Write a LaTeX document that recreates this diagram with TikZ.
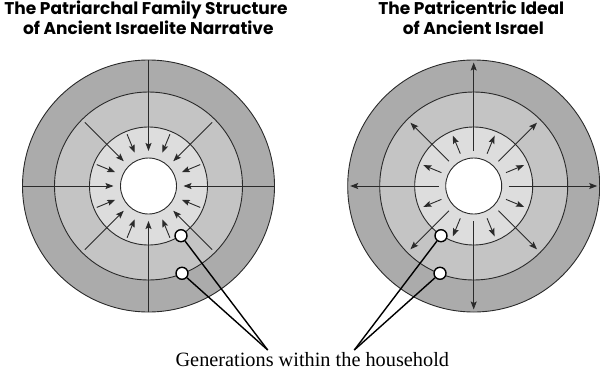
\documentclass[tikz,border=0pt]{standalone}
\usepackage{fontspec}
\setmainfont{Liberation Serif}
\newfontfamily\titlefont{Poppins}
\usetikzlibrary{arrows.meta}
\definecolor{ringA}{HTML}{ABABAB}
\definecolor{ringB}{HTML}{C4C4C4}
\definecolor{ringC}{HTML}{DDDDDD}
\definecolor{linegray}{HTML}{2A2A2A}
\tikzset{
  ringline/.style={draw=linegray, line width=0.9pt},
  arr/.style={draw=linegray, line width=0.9pt, -{Stealth[length=8pt,width=6pt,inset=1.5pt]}},
  plain/.style={draw=linegray, line width=0.9pt},
  dot/.style={circle, draw=black, fill=white, line width=1.4pt, minimum size=12pt, inner sep=0pt},
  pointer/.style={draw=black, line width=1.4pt},
  titletext/.style={font=\titlefont\bfseries\fontsize{17}{20}\selectfont, inner sep=0pt, anchor=base},
  labeltext/.style={font=\fontsize{20.3}{22}\selectfont, inner sep=0pt, anchor=base}
}
\newcommand{\rings}{%
  \fill[ringA] (0,0) circle (126);
  \fill[ringB] (0,0) circle (94);
  \fill[ringC] (0,0) circle (59);
  \fill[white] (0,0) circle (28);
}
\newcommand{\ringlines}{%
  \draw[ringline] (0,0) circle (126);
  \draw[ringline] (0,0) circle (94);
  \draw[ringline] (0,0) circle (59);
  \draw[ringline] (0,0) circle (28);
}
\begin{document}
\begin{tikzpicture}[x=1pt,y=-1pt]
\useasboundingbox (0,0) rectangle (600,370);
% titles
\node[titletext] (t1a) at (146,14) {The Patriarchal Family Structure};
\node[titletext] (t1b) at (148.3,34.3) {of Ancient Israelite Narrative};
\node[titletext] (t2a) at (471.3,14) {The Patricentric Ideal};
\node[titletext] (t2b) at (473.3,34.3) {of Ancient Israel};
% left diagram
\begin{scope}[shift={(148.5,186)}]
  \rings
  \foreach \a in {0,90,180,270} \draw[plain] (\a:126) -- (\a:94);
  \ringlines
  \foreach \a in {0,90,180,270} \draw[arr] (\a:94) -- (\a:35);
  \foreach \a in {45,135,225,315} \draw[arr] (\a:90) -- (\a:35);
  \foreach \a in {22.5,67.5,...,337.5} \draw[arr] (\a:56) -- (\a:36);
\end{scope}
% right diagram
\begin{scope}[shift={(473.7,186)}]
  \rings
  \ringlines
  \foreach \a in {0,90,180,270} \draw[arr] (\a:35) -- (\a:123.5);
  \foreach \a in {45,135,225,315} \draw[arr] (\a:35) -- (\a:89.5);
  \foreach \a in {22.5,67.5,...,337.5} \draw[arr] (\a:35) -- (\a:54.5);
\end{scope}
% pointers
\node[dot] (d1) at (181,235.7) {};
\node[dot] (d2) at (182,273.3) {};
\node[dot] (d3) at (441,235.7) {};
\node[dot] (d4) at (440,273.3) {};
\coordinate (cL) at (267.7,350);
\coordinate (cR) at (354.3,350);
\draw[pointer] (d1) -- (cL);
\draw[pointer] (d2) -- (cL);
\draw[pointer] (d3) -- (cR);
\draw[pointer] (d4) -- (cR);
\node[labeltext] (lab) at (312.3,366.5) {Generations within the household};
\end{tikzpicture}
\end{document}
